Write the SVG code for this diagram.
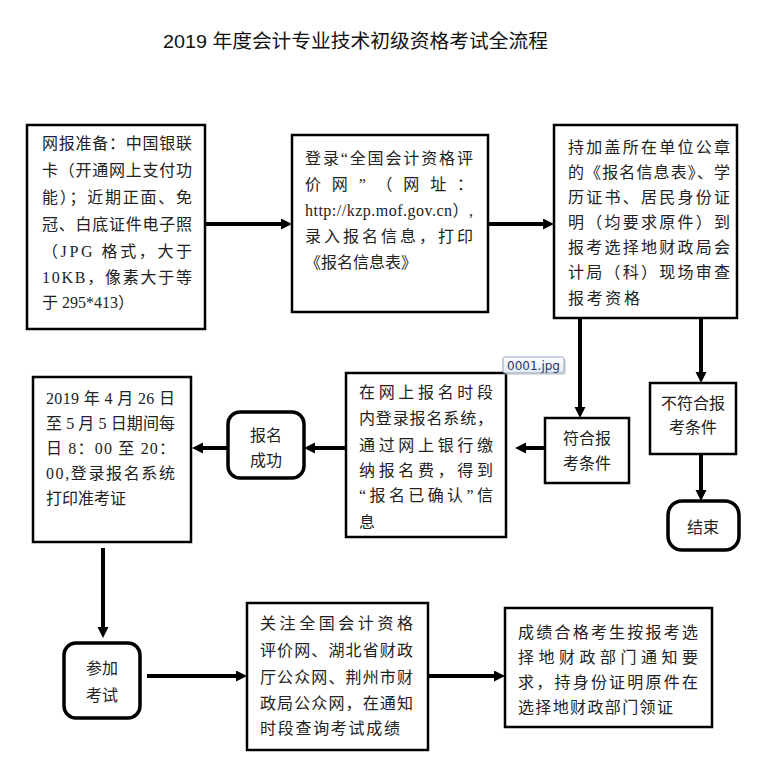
<svg xmlns="http://www.w3.org/2000/svg" width="757" height="782" viewBox="0 0 757 782">
<style>
.box{fill:#fff;stroke:#000;stroke-width:2.5}
.rbox{fill:#fff;stroke:#000;stroke-width:3.5}
.t{font-family:"Liberation Serif","Noto Sans CJK SC",serif;font-size:16px;fill:#222}
.c{text-anchor:middle}
.title{font-family:"Liberation Sans","Noto Sans CJK SC",sans-serif;font-size:19px;fill:#111;text-anchor:middle}
.conn{fill:none;stroke:#000;stroke-width:4;marker-end:url(#ah)}
</style>
<defs>
<marker id="ah" markerUnits="userSpaceOnUse" markerWidth="12" markerHeight="12" refX="3" refY="5.5" orient="auto">
<path d="M0,0 L11,5.5 L0,11 z" fill="#000"/>
</marker>
<linearGradient id="tipg" x1="0" y1="0" x2="0" y2="1">
<stop offset="0" stop-color="#ffffff"/>
<stop offset="1" stop-color="#e2e9f4"/>
</linearGradient>
</defs>
<rect width="757" height="782" fill="#fff"/>
<text class="title" x="355.5" y="48" textLength="385" lengthAdjust="spacingAndGlyphs">2019 年度会计专业技术初级资格考试全流程</text>

<g id="connectors">
<path class="conn" d="M205,224 H284"/>
<path class="conn" d="M488,224 H546"/>
<path class="conn" d="M580,318 V410"/>
<path class="conn" d="M701,318 V375"/>
<path class="conn" d="M701,454 V493"/>
<path class="conn" d="M545,448 H523"/>
<path class="conn" d="M346,448 H312"/>
<path class="conn" d="M228,448 H200"/>
<path class="conn" d="M103,548 V630"/>
<path class="conn" d="M147,676 H239"/>
<path class="conn" d="M428,676 H497"/>
</g>

<g id="n1">
<rect class="box" x="27" y="125" width="178" height="204"/>
<text class="t" x="42" y="149" textLength="150" lengthAdjust="spacing">网报准备：中国银联</text>
<text class="t" x="42" y="176" textLength="150" lengthAdjust="spacing">卡（开通网上支付功</text>
<text class="t" x="42" y="203" textLength="150" lengthAdjust="spacing">能）；近期正面、免</text>
<text class="t" x="42" y="230" textLength="150" lengthAdjust="spacing">冠、白底证件电子照</text>
<text class="t" x="42" y="257" textLength="150" lengthAdjust="spacing">（JPG 格式，大于</text>
<text class="t" x="42" y="283" textLength="150" lengthAdjust="spacing">10KB，像素大于等</text>
<text class="t" x="42" y="308">于 295*413）</text>
</g>

<g id="n2">
<rect class="box" x="292" y="135" width="196" height="177"/>
<text class="t" x="305" y="164" textLength="168" lengthAdjust="spacing">登录“全国会计资格评</text>
<text class="t" x="305" y="190" textLength="168" lengthAdjust="spacing">价 网 ” （ 网 址 ：</text>
<text class="t" x="305" y="216" textLength="168" lengthAdjust="spacing">http://kzp.mof.gov.cn）,</text>
<text class="t" x="305" y="242" textLength="168" lengthAdjust="spacing">录入报名信息，打印</text>
<text class="t" x="305" y="268">《报名信息表》</text>
</g>

<g id="n3">
<rect class="box" x="554" y="125" width="183" height="193"/>
<text class="t" x="568" y="153" textLength="162" lengthAdjust="spacing">持加盖所在单位公章</text>
<text class="t" x="568" y="178" textLength="162" lengthAdjust="spacing">的《报名信息表》、学</text>
<text class="t" x="568" y="203" textLength="162" lengthAdjust="spacing">历证书、居民身份证</text>
<text class="t" x="568" y="228" textLength="162" lengthAdjust="spacing">明（均要求原件）到</text>
<text class="t" x="568" y="253" textLength="162" lengthAdjust="spacing">报考选择地财政局会</text>
<text class="t" x="568" y="278" textLength="162" lengthAdjust="spacing">计局（科）现场审查</text>
<text class="t" x="568" y="304" textLength="72" lengthAdjust="spacing">报考资格</text>
</g>

<g id="n4">
<rect class="box" x="545" y="418" width="84" height="65"/>
<text class="t c" x="587" y="444">符合报</text>
<text class="t c" x="587" y="469">考条件</text>
</g>

<g id="n5">
<rect class="box" x="650" y="383" width="86" height="71"/>
<text class="t c" x="693" y="409">不符合报</text>
<text class="t c" x="693" y="433">考条件</text>
</g>

<g id="n6">
<rect class="rbox" x="668" y="501" width="71" height="49" rx="14" ry="14"/>
<text class="t c" x="703" y="533">结束</text>
</g>

<g id="n7">
<rect class="box" x="346" y="373" width="160" height="164"/>
<text class="t" x="359" y="398" textLength="134" lengthAdjust="spacing">在网上报名时段</text>
<text class="t" x="359" y="424" textLength="134" lengthAdjust="spacing">内登录报名系统，</text>
<text class="t" x="359" y="451" textLength="134" lengthAdjust="spacing">通过网上银行缴</text>
<text class="t" x="359" y="476" textLength="134" lengthAdjust="spacing">纳报名费，得到</text>
<text class="t" x="359" y="501" textLength="134" lengthAdjust="spacing">“报名已确认”信</text>
<text class="t" x="359" y="528">息</text>
</g>

<g id="n8">
<rect class="rbox" x="228" y="412" width="76" height="66" rx="12" ry="12"/>
<text class="t c" x="266" y="441">报名</text>
<text class="t c" x="266" y="466">成功</text>
</g>

<g id="n9">
<rect class="box" x="33" y="377" width="158" height="165"/>
<text class="t" x="46" y="404" textLength="129" lengthAdjust="spacing">2019 年 4 月 26 日</text>
<text class="t" x="46" y="429" textLength="129" lengthAdjust="spacing">至 5 月 5 日期间每</text>
<text class="t" x="46" y="454" textLength="129" lengthAdjust="spacing">日 8：00 至 20：</text>
<text class="t" x="46" y="479" textLength="129" lengthAdjust="spacing">00,登录报名系统</text>
<text class="t" x="46" y="504">打印准考证</text>
</g>

<g id="n10">
<rect class="rbox" x="64" y="643" width="76" height="75" rx="12" ry="12"/>
<text class="t c" x="102" y="674">参加</text>
<text class="t c" x="102" y="701">考试</text>
</g>

<g id="n11">
<rect class="box" x="247" y="603" width="181" height="147"/>
<text class="t" x="260" y="629" textLength="153" lengthAdjust="spacing">关注全国会计资格</text>
<text class="t" x="260" y="656" textLength="153" lengthAdjust="spacing">评价网、湖北省财政</text>
<text class="t" x="260" y="683" textLength="153" lengthAdjust="spacing">厅公众网、荆州市财</text>
<text class="t" x="260" y="709" textLength="153" lengthAdjust="spacing">政局公众网，在通知</text>
<text class="t" x="260" y="734" textLength="140" lengthAdjust="spacing">时段查询考试成绩</text>
</g>

<g id="n12">
<rect class="box" x="505" y="608" width="207" height="119"/>
<text class="t" x="518" y="638" textLength="180" lengthAdjust="spacing">成绩合格考生按报考选</text>
<text class="t" x="518" y="663" textLength="180" lengthAdjust="spacing">择地财政部门通知要</text>
<text class="t" x="518" y="688" textLength="180" lengthAdjust="spacing">求，持身份证明原件在</text>
<text class="t" x="518" y="713" textLength="155" lengthAdjust="spacing">选择地财政部门领证</text>
</g>

<g id="tooltip">
<rect x="505" y="359" width="61" height="16" rx="2" fill="#c8c8c8" opacity="0.6"/>
<rect x="503" y="357" width="61" height="16" rx="2" fill="url(#tipg)" stroke="#8fa3c0" stroke-width="1"/>
<text x="533.5" y="369.5" font-family="DejaVu Sans, sans-serif" font-size="12" fill="#1e3b6e" text-anchor="middle">0001.jpg</text>
</g>
</svg>
